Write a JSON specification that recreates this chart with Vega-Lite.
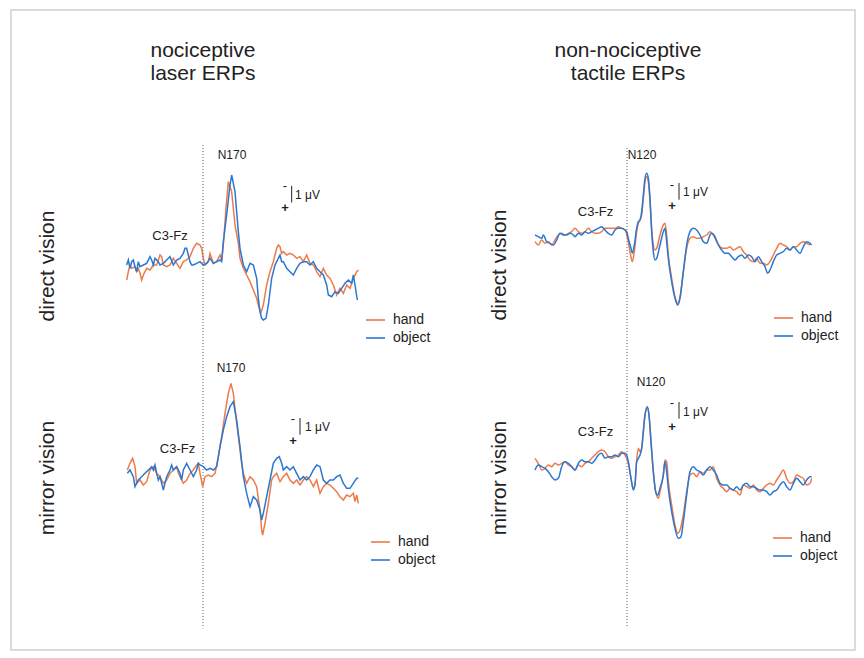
{
"$schema": "https://vega.github.io/schema/vega-lite/v6.json",
"width": 864, "height": 658,
"autosize": {"type": "fit", "contains": "padding"},
"padding": {"left": 11, "top": 10, "right": 9, "bottom": 8},
"background": "white",
"config": {
  "view": {"stroke": "#cfcfcf", "strokeWidth": 1.5},
  "axis": {"disable": true},
  "text": {"font": "Liberation Sans", "color": "#222222"},
  "legend": {"symbolType": "stroke", "symbolSize": 361, "symbolStrokeWidth": 1.6, "labelFontSize": 14, "labelFont": "Liberation Sans", "labelColor": "#222222", "rowPadding": 0, "labelOffset": 7, "padding": 0, "offset": 0, "title": null}
},
"datasets": {
"LT": [
{"s":"hand","t":-458,"v":0.9},{"s":"hand","t":-448,"v":0.4},{"s":"hand","t":-438,"v":0},{"s":"hand","t":-428,"v":0.2},{"s":"hand","t":-408,"v":0.1},{"s":"hand","t":-398,"v":0.4},{"s":"hand","t":-388,"v":0.2},{"s":"hand","t":-378,"v":0.5},{"s":"hand","t":-368,"v":0.9},{"s":"hand","t":-358,"v":0.6},{"s":"hand","t":-338,"v":0.2},{"s":"hand","t":-318,"v":0.3},{"s":"hand","t":-298,"v":0},{"s":"hand","t":-278,"v":0},{"s":"hand","t":-258,"v":-0.6},{"s":"hand","t":-248,"v":-0.5},{"s":"hand","t":-238,"v":0},{"s":"hand","t":-218,"v":0.1},{"s":"hand","t":-198,"v":0},{"s":"hand","t":-178,"v":-0.4},{"s":"hand","t":-158,"v":-0.1},{"s":"hand","t":-138,"v":0.2},{"s":"hand","t":-118,"v":-0.2},{"s":"hand","t":-98,"v":-0.3},{"s":"hand","t":-78,"v":-0.5},{"s":"hand","t":-58,"v":-1.0},{"s":"hand","t":-38,"v":-1.3},{"s":"hand","t":-18,"v":-1.2},{"s":"hand","t":-8,"v":-1.0},{"s":"hand","t":2,"v":-0.4},{"s":"hand","t":12,"v":0},{"s":"hand","t":32,"v":-0.2},{"s":"hand","t":42,"v":-0.7},{"s":"hand","t":62,"v":-0.1},{"s":"hand","t":82,"v":-0.2},{"s":"hand","t":102,"v":-0.6},{"s":"hand","t":112,"v":-0.3},{"s":"hand","t":122,"v":-1.2},{"s":"hand","t":138,"v":-3.4},{"s":"hand","t":152,"v":-5.0},{"s":"hand","t":172,"v":-4.4},{"s":"hand","t":192,"v":-2.4},{"s":"hand","t":212,"v":-1.3},{"s":"hand","t":222,"v":-0.4},{"s":"hand","t":242,"v":0.2},{"s":"hand","t":262,"v":0.6},{"s":"hand","t":282,"v":1.0},{"s":"hand","t":302,"v":1.5},{"s":"hand","t":322,"v":2.0},{"s":"hand","t":332,"v":2.4},{"s":"hand","t":346,"v":2.9},{"s":"hand","t":362,"v":2.4},{"s":"hand","t":382,"v":1.2},{"s":"hand","t":402,"v":0.4},{"s":"hand","t":422,"v":-0.2},{"s":"hand","t":442,"v":-1.0},{"s":"hand","t":452,"v":-1.2},{"s":"hand","t":462,"v":-1.1},{"s":"hand","t":472,"v":-0.7},{"s":"hand","t":482,"v":-0.8},{"s":"hand","t":502,"v":-0.6},{"s":"hand","t":522,"v":-0.7},{"s":"hand","t":542,"v":-0.6},{"s":"hand","t":562,"v":-0.4},{"s":"hand","t":582,"v":-0.5},{"s":"hand","t":602,"v":-0.2},{"s":"hand","t":622,"v":-0.6},{"s":"hand","t":642,"v":-0.1},{"s":"hand","t":662,"v":0},{"s":"hand","t":682,"v":0.4},{"s":"hand","t":702,"v":0.7},{"s":"hand","t":722,"v":0.2},{"s":"hand","t":742,"v":0.6},{"s":"hand","t":762,"v":0.8},{"s":"hand","t":782,"v":1.2},{"s":"hand","t":802,"v":1.8},{"s":"hand","t":822,"v":1.4},{"s":"hand","t":842,"v":1.7},{"s":"hand","t":862,"v":1.2},{"s":"hand","t":882,"v":1.4},{"s":"hand","t":902,"v":0.8},{"s":"hand","t":922,"v":0.4},{"s":"hand","t":932,"v":0.3},
{"s":"object","t":-458,"v":0},{"s":"object","t":-448,"v":-0.3},{"s":"object","t":-438,"v":0.2},{"s":"object","t":-428,"v":-0.2},{"s":"object","t":-418,"v":-0.3},{"s":"object","t":-408,"v":0.1},{"s":"object","t":-398,"v":0.4},{"s":"object","t":-388,"v":-0.2},{"s":"object","t":-378,"v":0.1},{"s":"object","t":-358,"v":0},{"s":"object","t":-338,"v":-0.1},{"s":"object","t":-318,"v":-0.5},{"s":"object","t":-308,"v":-0.3},{"s":"object","t":-298,"v":0},{"s":"object","t":-288,"v":-0.4},{"s":"object","t":-268,"v":-0.2},{"s":"object","t":-258,"v":0},{"s":"object","t":-238,"v":-0.1},{"s":"object","t":-218,"v":-0.3},{"s":"object","t":-198,"v":-0.5},{"s":"object","t":-178,"v":0},{"s":"object","t":-158,"v":-0.3},{"s":"object","t":-138,"v":-0.4},{"s":"object","t":-118,"v":-0.7},{"s":"object","t":-108,"v":-1.0},{"s":"object","t":-98,"v":-1.0},{"s":"object","t":-88,"v":-0.6},{"s":"object","t":-78,"v":-0.2},{"s":"object","t":-68,"v":0},{"s":"object","t":-58,"v":0},{"s":"object","t":-38,"v":-0.1},{"s":"object","t":-18,"v":-0.2},{"s":"object","t":2,"v":0},{"s":"object","t":22,"v":-0.1},{"s":"object","t":42,"v":-0.4},{"s":"object","t":62,"v":-0.1},{"s":"object","t":82,"v":-0.2},{"s":"object","t":102,"v":-0.3},{"s":"object","t":112,"v":-0.2},{"s":"object","t":122,"v":-1.4},{"s":"object","t":142,"v":-3.0},{"s":"object","t":162,"v":-4.8},{"s":"object","t":172,"v":-5.4},{"s":"object","t":192,"v":-4.4},{"s":"object","t":212,"v":-2.0},{"s":"object","t":222,"v":-1.0},{"s":"object","t":242,"v":0},{"s":"object","t":262,"v":0.4},{"s":"object","t":282,"v":-0.1},{"s":"object","t":302,"v":0},{"s":"object","t":322,"v":0.8},{"s":"object","t":332,"v":2.0},{"s":"object","t":342,"v":2.8},{"s":"object","t":352,"v":3.2},{"s":"object","t":362,"v":3.3},{"s":"object","t":378,"v":3.2},{"s":"object","t":392,"v":2.4},{"s":"object","t":412,"v":0.8},{"s":"object","t":432,"v":0},{"s":"object","t":452,"v":-0.4},{"s":"object","t":462,"v":-0.6},{"s":"object","t":472,"v":-0.2},{"s":"object","t":482,"v":-0.2},{"s":"object","t":502,"v":0.2},{"s":"object","t":522,"v":0.4},{"s":"object","t":542,"v":0.6},{"s":"object","t":562,"v":0.2},{"s":"object","t":582,"v":-0.1},{"s":"object","t":602,"v":-0.2},{"s":"object","t":622,"v":-0.2},{"s":"object","t":642,"v":0},{"s":"object","t":662,"v":-0.2},{"s":"object","t":682,"v":0.2},{"s":"object","t":702,"v":0.4},{"s":"object","t":722,"v":0.6},{"s":"object","t":742,"v":1.2},{"s":"object","t":752,"v":1.8},{"s":"object","t":772,"v":1.9},{"s":"object","t":792,"v":1.6},{"s":"object","t":812,"v":1.7},{"s":"object","t":832,"v":1.4},{"s":"object","t":852,"v":1.1},{"s":"object","t":872,"v":0.9},{"s":"object","t":892,"v":1.1},{"s":"object","t":902,"v":0.6},{"s":"object","t":912,"v":1.2},{"s":"object","t":926,"v":2.1}
],
"LB": [
{"s":"hand","t":-454,"v":0},{"s":"hand","t":-438,"v":-0.4},{"s":"hand","t":-422,"v":-0.7},{"s":"hand","t":-408,"v":-0.2},{"s":"hand","t":-398,"v":0.8},{"s":"hand","t":-378,"v":0.6},{"s":"hand","t":-358,"v":0.9},{"s":"hand","t":-338,"v":0.7},{"s":"hand","t":-318,"v":0},{"s":"hand","t":-298,"v":-0.2},{"s":"hand","t":-278,"v":0.2},{"s":"hand","t":-258,"v":0.4},{"s":"hand","t":-238,"v":0.8},{"s":"hand","t":-218,"v":0.6},{"s":"hand","t":-198,"v":0.2},{"s":"hand","t":-178,"v":0},{"s":"hand","t":-158,"v":-0.2},{"s":"hand","t":-148,"v":0.2},{"s":"hand","t":-128,"v":0.6},{"s":"hand","t":-118,"v":0.8},{"s":"hand","t":-98,"v":0.6},{"s":"hand","t":-78,"v":0.2},{"s":"hand","t":-58,"v":0},{"s":"hand","t":-38,"v":-0.3},{"s":"hand","t":-28,"v":-0.4},{"s":"hand","t":-18,"v":0.2},{"s":"hand","t":-2,"v":1.0},{"s":"hand","t":12,"v":0.4},{"s":"hand","t":32,"v":0.3},{"s":"hand","t":52,"v":0.4},{"s":"hand","t":72,"v":0.2},{"s":"hand","t":92,"v":-0.8},{"s":"hand","t":112,"v":-2.0},{"s":"hand","t":132,"v":-3.4},{"s":"hand","t":152,"v":-4.6},{"s":"hand","t":168,"v":-5.2},{"s":"hand","t":182,"v":-4.6},{"s":"hand","t":202,"v":-2.8},{"s":"hand","t":222,"v":-1.2},{"s":"hand","t":232,"v":-0.4},{"s":"hand","t":242,"v":0.2},{"s":"hand","t":262,"v":0.8},{"s":"hand","t":282,"v":0.4},{"s":"hand","t":302,"v":0.6},{"s":"hand","t":322,"v":1.0},{"s":"hand","t":342,"v":2.4},{"s":"hand","t":352,"v":3.6},{"s":"hand","t":358,"v":3.9},{"s":"hand","t":372,"v":3.2},{"s":"hand","t":392,"v":2.0},{"s":"hand","t":412,"v":0.6},{"s":"hand","t":422,"v":0.4},{"s":"hand","t":442,"v":0.2},{"s":"hand","t":462,"v":0.7},{"s":"hand","t":482,"v":0.4},{"s":"hand","t":502,"v":0.2},{"s":"hand","t":522,"v":0.6},{"s":"hand","t":542,"v":0.8},{"s":"hand","t":562,"v":0.6},{"s":"hand","t":582,"v":0.9},{"s":"hand","t":602,"v":0.6},{"s":"hand","t":622,"v":0.4},{"s":"hand","t":642,"v":0.6},{"s":"hand","t":662,"v":1.0},{"s":"hand","t":682,"v":0.6},{"s":"hand","t":702,"v":1.4},{"s":"hand","t":722,"v":1.0},{"s":"hand","t":742,"v":0.8},{"s":"hand","t":762,"v":0.9},{"s":"hand","t":782,"v":1.1},{"s":"hand","t":802,"v":1.3},{"s":"hand","t":822,"v":1.6},{"s":"hand","t":842,"v":1.8},{"s":"hand","t":862,"v":1.5},{"s":"hand","t":882,"v":1.6},{"s":"hand","t":902,"v":1.4},{"s":"hand","t":912,"v":1.9},{"s":"hand","t":922,"v":1.5},{"s":"hand","t":932,"v":2.0},
{"s":"object","t":-454,"v":0.2},{"s":"object","t":-438,"v":0},{"s":"object","t":-418,"v":0.4},{"s":"object","t":-408,"v":1.0},{"s":"object","t":-388,"v":0.6},{"s":"object","t":-368,"v":0.4},{"s":"object","t":-348,"v":0.2},{"s":"object","t":-328,"v":0},{"s":"object","t":-308,"v":-0.2},{"s":"object","t":-298,"v":0},{"s":"object","t":-288,"v":-0.3},{"s":"object","t":-278,"v":0.2},{"s":"object","t":-268,"v":0.6},{"s":"object","t":-258,"v":0.4},{"s":"object","t":-248,"v":0.8},{"s":"object","t":-238,"v":1.2},{"s":"object","t":-218,"v":0.4},{"s":"object","t":-198,"v":0},{"s":"object","t":-188,"v":-0.3},{"s":"object","t":-178,"v":0},{"s":"object","t":-158,"v":-0.2},{"s":"object","t":-138,"v":0.2},{"s":"object","t":-128,"v":0.6},{"s":"object","t":-118,"v":0},{"s":"object","t":-98,"v":-0.4},{"s":"object","t":-78,"v":0},{"s":"object","t":-58,"v":0.4},{"s":"object","t":-38,"v":0},{"s":"object","t":-28,"v":-0.4},{"s":"object","t":-18,"v":-0.3},{"s":"object","t":2,"v":-0.2},{"s":"object","t":22,"v":0},{"s":"object","t":42,"v":-0.1},{"s":"object","t":62,"v":0},{"s":"object","t":82,"v":-0.2},{"s":"object","t":102,"v":-1.4},{"s":"object","t":122,"v":-2.4},{"s":"object","t":142,"v":-3.2},{"s":"object","t":162,"v":-3.8},{"s":"object","t":182,"v":-4.1},{"s":"object","t":202,"v":-3.0},{"s":"object","t":222,"v":-1.4},{"s":"object","t":242,"v":0.4},{"s":"object","t":262,"v":1.4},{"s":"object","t":282,"v":2.2},{"s":"object","t":302,"v":1.6},{"s":"object","t":322,"v":1.8},{"s":"object","t":342,"v":2.4},{"s":"object","t":352,"v":3.0},{"s":"object","t":362,"v":2.6},{"s":"object","t":382,"v":1.6},{"s":"object","t":402,"v":0.6},{"s":"object","t":422,"v":-0.4},{"s":"object","t":442,"v":-0.7},{"s":"object","t":458,"v":-0.8},{"s":"object","t":472,"v":-0.4},{"s":"object","t":482,"v":0},{"s":"object","t":502,"v":-0.2},{"s":"object","t":522,"v":0},{"s":"object","t":542,"v":-0.2},{"s":"object","t":562,"v":0.2},{"s":"object","t":582,"v":0.6},{"s":"object","t":602,"v":0.4},{"s":"object","t":622,"v":0.6},{"s":"object","t":642,"v":0.4},{"s":"object","t":662,"v":0},{"s":"object","t":682,"v":-0.3},{"s":"object","t":702,"v":-0.2},{"s":"object","t":722,"v":0.6},{"s":"object","t":742,"v":0.8},{"s":"object","t":762,"v":0.6},{"s":"object","t":782,"v":0.6},{"s":"object","t":802,"v":0.4},{"s":"object","t":822,"v":0.3},{"s":"object","t":842,"v":0.8},{"s":"object","t":862,"v":1.1},{"s":"object","t":882,"v":1.1},{"s":"object","t":902,"v":0.8},{"s":"object","t":922,"v":0.5},{"s":"object","t":932,"v":0.5}
],
"RT": [
{"s":"hand","t":-552,"v":0.4},{"s":"hand","t":-532,"v":0.6},{"s":"hand","t":-512,"v":0.3},{"s":"hand","t":-492,"v":0.5},{"s":"hand","t":-472,"v":0.4},{"s":"hand","t":-452,"v":0.6},{"s":"hand","t":-432,"v":0.3},{"s":"hand","t":-412,"v":0},{"s":"hand","t":-392,"v":-0.1},{"s":"hand","t":-372,"v":0},{"s":"hand","t":-352,"v":-0.1},{"s":"hand","t":-332,"v":-0.2},{"s":"hand","t":-312,"v":-0.4},{"s":"hand","t":-292,"v":-0.2},{"s":"hand","t":-272,"v":-0.1},{"s":"hand","t":-252,"v":-0.2},{"s":"hand","t":-232,"v":-0.4},{"s":"hand","t":-212,"v":-0.2},{"s":"hand","t":-192,"v":-0.1},{"s":"hand","t":-172,"v":-0.1},{"s":"hand","t":-152,"v":-0.2},{"s":"hand","t":-132,"v":-0.4},{"s":"hand","t":-112,"v":-0.4},{"s":"hand","t":-92,"v":-0.4},{"s":"hand","t":-72,"v":-0.4},{"s":"hand","t":-52,"v":-0.5},{"s":"hand","t":-32,"v":-0.4},{"s":"hand","t":-12,"v":-0.3},{"s":"hand","t":4,"v":0.2},{"s":"hand","t":18,"v":1.0},{"s":"hand","t":32,"v":1.6},{"s":"hand","t":44,"v":1.0},{"s":"hand","t":58,"v":-0.2},{"s":"hand","t":68,"v":-0.7},{"s":"hand","t":78,"v":-0.9},{"s":"hand","t":88,"v":-1.2},{"s":"hand","t":98,"v":-2.2},{"s":"hand","t":108,"v":-3.2},{"s":"hand","t":118,"v":-3.5},{"s":"hand","t":128,"v":-3.2},{"s":"hand","t":138,"v":-2.0},{"s":"hand","t":148,"v":-0.4},{"s":"hand","t":158,"v":0.6},{"s":"hand","t":168,"v":0.9},{"s":"hand","t":178,"v":0.8},{"s":"hand","t":198,"v":0},{"s":"hand","t":218,"v":-0.6},{"s":"hand","t":228,"v":-0.7},{"s":"hand","t":238,"v":0},{"s":"hand","t":248,"v":1.2},{"s":"hand","t":268,"v":2.6},{"s":"hand","t":288,"v":3.7},{"s":"hand","t":304,"v":4.1},{"s":"hand","t":318,"v":3.7},{"s":"hand","t":338,"v":2.2},{"s":"hand","t":358,"v":0.8},{"s":"hand","t":378,"v":0.2},{"s":"hand","t":398,"v":0.1},{"s":"hand","t":418,"v":0.2},{"s":"hand","t":438,"v":0.2},{"s":"hand","t":458,"v":0.1},{"s":"hand","t":478,"v":0},{"s":"hand","t":498,"v":-0.2},{"s":"hand","t":518,"v":0},{"s":"hand","t":538,"v":0.4},{"s":"hand","t":558,"v":0.7},{"s":"hand","t":578,"v":0.8},{"s":"hand","t":598,"v":0.8},{"s":"hand","t":618,"v":0.7},{"s":"hand","t":638,"v":0.9},{"s":"hand","t":658,"v":0.8},{"s":"hand","t":678,"v":0.7},{"s":"hand","t":698,"v":1.0},{"s":"hand","t":718,"v":1.2},{"s":"hand","t":738,"v":1.5},{"s":"hand","t":758,"v":1.6},{"s":"hand","t":778,"v":1.4},{"s":"hand","t":798,"v":1.7},{"s":"hand","t":818,"v":1.7},{"s":"hand","t":838,"v":1.8},{"s":"hand","t":858,"v":1.6},{"s":"hand","t":878,"v":1.2},{"s":"hand","t":898,"v":0.8},{"s":"hand","t":918,"v":0.5},{"s":"hand","t":938,"v":0.6},{"s":"hand","t":958,"v":0.7},{"s":"hand","t":978,"v":0.9},{"s":"hand","t":998,"v":0.7},{"s":"hand","t":1018,"v":0.7},{"s":"hand","t":1038,"v":0.5},{"s":"hand","t":1058,"v":0.4},{"s":"hand","t":1078,"v":0.5},{"s":"hand","t":1098,"v":0.6},
{"s":"object","t":-552,"v":0},{"s":"object","t":-532,"v":0.1},{"s":"object","t":-512,"v":0.2},{"s":"object","t":-502,"v":0},{"s":"object","t":-482,"v":0.4},{"s":"object","t":-462,"v":0.5},{"s":"object","t":-442,"v":0.6},{"s":"object","t":-422,"v":0.3},{"s":"object","t":-402,"v":-0.1},{"s":"object","t":-382,"v":0},{"s":"object","t":-362,"v":0},{"s":"object","t":-342,"v":-0.1},{"s":"object","t":-322,"v":0},{"s":"object","t":-312,"v":0.1},{"s":"object","t":-292,"v":-0.1},{"s":"object","t":-272,"v":0},{"s":"object","t":-252,"v":-0.2},{"s":"object","t":-232,"v":-0.1},{"s":"object","t":-212,"v":-0.2},{"s":"object","t":-192,"v":-0.3},{"s":"object","t":-172,"v":-0.4},{"s":"object","t":-152,"v":-0.5},{"s":"object","t":-132,"v":-0.3},{"s":"object","t":-112,"v":-0.1},{"s":"object","t":-92,"v":0},{"s":"object","t":-72,"v":-0.3},{"s":"object","t":-52,"v":-0.4},{"s":"object","t":-32,"v":-0.4},{"s":"object","t":-12,"v":-0.3},{"s":"object","t":-2,"v":-0.2},{"s":"object","t":8,"v":0.2},{"s":"object","t":24,"v":0.8},{"s":"object","t":32,"v":1.1},{"s":"object","t":44,"v":0.6},{"s":"object","t":58,"v":-0.4},{"s":"object","t":68,"v":-0.8},{"s":"object","t":78,"v":-0.9},{"s":"object","t":88,"v":-1.4},{"s":"object","t":98,"v":-2.4},{"s":"object","t":108,"v":-3.4},{"s":"object","t":118,"v":-3.7},{"s":"object","t":128,"v":-3.4},{"s":"object","t":138,"v":-2.2},{"s":"object","t":148,"v":-0.2},{"s":"object","t":158,"v":1.0},{"s":"object","t":168,"v":1.5},{"s":"object","t":178,"v":1.4},{"s":"object","t":198,"v":0.6},{"s":"object","t":218,"v":-0.2},{"s":"object","t":228,"v":-0.4},{"s":"object","t":238,"v":0.4},{"s":"object","t":248,"v":1.4},{"s":"object","t":268,"v":2.8},{"s":"object","t":288,"v":3.8},{"s":"object","t":304,"v":4.2},{"s":"object","t":318,"v":3.8},{"s":"object","t":338,"v":2.2},{"s":"object","t":358,"v":0.6},{"s":"object","t":378,"v":-0.2},{"s":"object","t":398,"v":-0.4},{"s":"object","t":418,"v":-0.3},{"s":"object","t":438,"v":0},{"s":"object","t":458,"v":0.4},{"s":"object","t":478,"v":0.5},{"s":"object","t":498,"v":0},{"s":"object","t":508,"v":-0.1},{"s":"object","t":528,"v":0.1},{"s":"object","t":548,"v":0.6},{"s":"object","t":568,"v":0.9},{"s":"object","t":588,"v":1.1},{"s":"object","t":608,"v":1.1},{"s":"object","t":628,"v":1.3},{"s":"object","t":648,"v":1.5},{"s":"object","t":668,"v":1.3},{"s":"object","t":688,"v":1.2},{"s":"object","t":708,"v":1.4},{"s":"object","t":728,"v":1.2},{"s":"object","t":748,"v":1.3},{"s":"object","t":768,"v":1.6},{"s":"object","t":788,"v":1.3},{"s":"object","t":808,"v":1.6},{"s":"object","t":828,"v":1.9},{"s":"object","t":844,"v":2.3},{"s":"object","t":858,"v":2.1},{"s":"object","t":878,"v":1.6},{"s":"object","t":898,"v":1.2},{"s":"object","t":918,"v":1.1},{"s":"object","t":938,"v":1.0},{"s":"object","t":958,"v":0.8},{"s":"object","t":978,"v":0.9},{"s":"object","t":998,"v":0.7},{"s":"object","t":1018,"v":0.9},{"s":"object","t":1038,"v":1.1},{"s":"object","t":1058,"v":0.7},{"s":"object","t":1078,"v":0.4},{"s":"object","t":1098,"v":0.5},{"s":"object","t":1108,"v":0.6}
],
"RB": [
{"s":"hand","t":-552,"v":-0.4},{"s":"hand","t":-532,"v":-0.1},{"s":"hand","t":-512,"v":0.3},{"s":"hand","t":-492,"v":0.2},{"s":"hand","t":-472,"v":0},{"s":"hand","t":-452,"v":0.1},{"s":"hand","t":-432,"v":-0.1},{"s":"hand","t":-412,"v":0},{"s":"hand","t":-392,"v":-0.1},{"s":"hand","t":-372,"v":-0.2},{"s":"hand","t":-352,"v":0},{"s":"hand","t":-332,"v":0.1},{"s":"hand","t":-312,"v":0.3},{"s":"hand","t":-292,"v":0},{"s":"hand","t":-272,"v":0.1},{"s":"hand","t":-252,"v":-0.1},{"s":"hand","t":-232,"v":-0.2},{"s":"hand","t":-212,"v":-0.4},{"s":"hand","t":-192,"v":-0.6},{"s":"hand","t":-172,"v":-0.8},{"s":"hand","t":-152,"v":-0.9},{"s":"hand","t":-132,"v":-0.8},{"s":"hand","t":-112,"v":-0.5},{"s":"hand","t":-92,"v":-0.4},{"s":"hand","t":-72,"v":-0.5},{"s":"hand","t":-52,"v":-0.6},{"s":"hand","t":-32,"v":-0.8},{"s":"hand","t":-12,"v":-0.6},{"s":"hand","t":-2,"v":-0.4},{"s":"hand","t":8,"v":-0.1},{"s":"hand","t":24,"v":0.8},{"s":"hand","t":38,"v":1.4},{"s":"hand","t":48,"v":1.1},{"s":"hand","t":58,"v":-0.3},{"s":"hand","t":68,"v":-1.0},{"s":"hand","t":78,"v":-0.8},{"s":"hand","t":88,"v":-1.0},{"s":"hand","t":98,"v":-2.0},{"s":"hand","t":108,"v":-3.0},{"s":"hand","t":122,"v":-3.4},{"s":"hand","t":132,"v":-3.0},{"s":"hand","t":144,"v":-1.4},{"s":"hand","t":158,"v":0.4},{"s":"hand","t":172,"v":1.6},{"s":"hand","t":188,"v":2.0},{"s":"hand","t":198,"v":1.6},{"s":"hand","t":218,"v":0.6},{"s":"hand","t":228,"v":-0.3},{"s":"hand","t":238,"v":-0.2},{"s":"hand","t":248,"v":1.0},{"s":"hand","t":268,"v":2.4},{"s":"hand","t":288,"v":3.6},{"s":"hand","t":304,"v":4.1},{"s":"hand","t":318,"v":3.9},{"s":"hand","t":338,"v":3.0},{"s":"hand","t":358,"v":1.6},{"s":"hand","t":378,"v":0.6},{"s":"hand","t":398,"v":0.5},{"s":"hand","t":418,"v":0.7},{"s":"hand","t":438,"v":0.4},{"s":"hand","t":458,"v":0.5},{"s":"hand","t":478,"v":0.3},{"s":"hand","t":498,"v":0.3},{"s":"hand","t":518,"v":0.1},{"s":"hand","t":538,"v":0.8},{"s":"hand","t":558,"v":1.2},{"s":"hand","t":578,"v":1.4},{"s":"hand","t":598,"v":1.6},{"s":"hand","t":618,"v":1.4},{"s":"hand","t":638,"v":1.5},{"s":"hand","t":658,"v":1.6},{"s":"hand","t":678,"v":1.8},{"s":"hand","t":698,"v":1.2},{"s":"hand","t":718,"v":1.3},{"s":"hand","t":738,"v":1.4},{"s":"hand","t":758,"v":1.2},{"s":"hand","t":778,"v":1.5},{"s":"hand","t":798,"v":1.6},{"s":"hand","t":818,"v":1.4},{"s":"hand","t":838,"v":1.2},{"s":"hand","t":858,"v":1.1},{"s":"hand","t":878,"v":1.2},{"s":"hand","t":898,"v":0.9},{"s":"hand","t":918,"v":0.6},{"s":"hand","t":938,"v":0.3},{"s":"hand","t":958,"v":0.8},{"s":"hand","t":978,"v":1.1},{"s":"hand","t":998,"v":1.0},{"s":"hand","t":1018,"v":0.6},{"s":"hand","t":1038,"v":0.7},{"s":"hand","t":1058,"v":0.8},{"s":"hand","t":1078,"v":1.2},{"s":"hand","t":1098,"v":1.1},{"s":"hand","t":1108,"v":0.8},
{"s":"object","t":-552,"v":0.3},{"s":"object","t":-532,"v":0},{"s":"object","t":-512,"v":0.1},{"s":"object","t":-492,"v":0.2},{"s":"object","t":-472,"v":0.4},{"s":"object","t":-452,"v":0.7},{"s":"object","t":-432,"v":0.9},{"s":"object","t":-412,"v":0.8},{"s":"object","t":-392,"v":0.1},{"s":"object","t":-372,"v":-0.2},{"s":"object","t":-352,"v":-0.1},{"s":"object","t":-332,"v":0.1},{"s":"object","t":-312,"v":0.3},{"s":"object","t":-292,"v":-0.1},{"s":"object","t":-272,"v":-0.3},{"s":"object","t":-252,"v":-0.2},{"s":"object","t":-232,"v":-0.2},{"s":"object","t":-212,"v":-0.1},{"s":"object","t":-192,"v":-0.3},{"s":"object","t":-172,"v":-0.6},{"s":"object","t":-152,"v":-0.7},{"s":"object","t":-132,"v":-0.4},{"s":"object","t":-112,"v":-0.5},{"s":"object","t":-92,"v":-0.5},{"s":"object","t":-72,"v":-0.6},{"s":"object","t":-52,"v":-0.5},{"s":"object","t":-32,"v":-0.7},{"s":"object","t":-12,"v":-0.7},{"s":"object","t":-2,"v":-0.6},{"s":"object","t":8,"v":-0.2},{"s":"object","t":24,"v":0.8},{"s":"object","t":38,"v":1.5},{"s":"object","t":48,"v":1.2},{"s":"object","t":58,"v":-0.2},{"s":"object","t":68,"v":-0.4},{"s":"object","t":78,"v":-0.6},{"s":"object","t":88,"v":-1.0},{"s":"object","t":98,"v":-2.0},{"s":"object","t":108,"v":-3.0},{"s":"object","t":122,"v":-3.5},{"s":"object","t":132,"v":-3.0},{"s":"object","t":144,"v":-1.4},{"s":"object","t":158,"v":0.4},{"s":"object","t":172,"v":1.6},{"s":"object","t":184,"v":1.8},{"s":"object","t":198,"v":1.4},{"s":"object","t":218,"v":0.6},{"s":"object","t":228,"v":-0.2},{"s":"object","t":238,"v":0.4},{"s":"object","t":248,"v":1.4},{"s":"object","t":268,"v":2.8},{"s":"object","t":288,"v":3.8},{"s":"object","t":308,"v":4.4},{"s":"object","t":324,"v":4.3},{"s":"object","t":338,"v":3.4},{"s":"object","t":358,"v":1.8},{"s":"object","t":378,"v":0.4},{"s":"object","t":398,"v":0.1},{"s":"object","t":418,"v":0.3},{"s":"object","t":438,"v":0.4},{"s":"object","t":458,"v":0.6},{"s":"object","t":478,"v":0.3},{"s":"object","t":498,"v":0.1},{"s":"object","t":518,"v":0.3},{"s":"object","t":538,"v":0.6},{"s":"object","t":558,"v":1.1},{"s":"object","t":578,"v":1.2},{"s":"object","t":598,"v":1.2},{"s":"object","t":618,"v":1.4},{"s":"object","t":638,"v":1.5},{"s":"object","t":658,"v":1.3},{"s":"object","t":678,"v":1.5},{"s":"object","t":698,"v":1.2},{"s":"object","t":718,"v":1.1},{"s":"object","t":738,"v":1.3},{"s":"object","t":758,"v":1.3},{"s":"object","t":778,"v":1.4},{"s":"object","t":798,"v":1.5},{"s":"object","t":818,"v":1.5},{"s":"object","t":838,"v":1.6},{"s":"object","t":858,"v":1.8},{"s":"object","t":878,"v":1.6},{"s":"object","t":898,"v":1.5},{"s":"object","t":918,"v":1.2},{"s":"object","t":938,"v":1.0},{"s":"object","t":958,"v":1.3},{"s":"object","t":978,"v":1.5},{"s":"object","t":998,"v":1.1},{"s":"object","t":1018,"v":0.8},{"s":"object","t":1038,"v":1.0},{"s":"object","t":1058,"v":1.2},{"s":"object","t":1078,"v":0.9},{"s":"object","t":1098,"v":0.7},{"s":"object","t":1108,"v":0.7}
]
},
"layer": [
{
 "layer": [
  {"data": {"name": "LT"}, "mark": {"type": "line", "strokeWidth": 1.5},
   "encoding": {
    "x": {"field": "t", "type": "quantitative", "scale": {"domain": [-1152, 3912], "nice": false, "zero": false}},
    "y": {"field": "v", "type": "quantitative", "scale": {"domain": [-15.3, 23.1], "nice": false, "zero": false, "reverse": true}},
    "color": {"field": "s", "type": "nominal", "scale": {"domain": ["hand", "object"], "range": ["#EE7A4A", "#2A78D2"]}, "legend": {"orient": "none", "legendX": 354, "legendY": 299.5}}
   }},
  {"data": {"values": [{}]}, "mark": {"type": "rule", "strokeDash": [1, 2], "color": "#666666", "strokeWidth": 1}, "encoding": {"x": {"datum": 0}, "y": {"datum": -7.2}, "y2": {"datum": 21.8}}},
  {"data": {"values": [{}]}, "mark": {"type": "rule", "color": "#222222", "strokeWidth": 1}, "encoding": {"x": {"datum": 532}, "y": {"datum": -4.75}, "y2": {"datum": -3.75}}},
  {"data": {"values": [{}]}, "mark": {"type": "text", "text": ["nociceptive", "laser ERPs"], "fontSize": 21, "lineHeight": 23, "align": "center", "baseline": "alphabetic"}, "encoding": {"x": {"datum": 0}, "y": {"datum": -12.5}}},
  {"data": {"values": [{}]}, "mark": {"type": "text", "text": "direct vision", "fontSize": 21, "angle": 270, "align": "center", "baseline": "middle"}, "encoding": {"x": {"datum": -930}, "y": {"datum": 0.06}}},
  {"data": {"values": [{}]}, "mark": {"type": "text", "text": "N170", "fontSize": 12, "align": "center", "baseline": "middle"}, "encoding": {"x": {"datum": 174}, "y": {"datum": -6.6}}},
  {"data": {"values": [{}]}, "mark": {"type": "text", "text": "C3-Fz", "fontSize": 13, "align": "center", "baseline": "middle"}, "encoding": {"x": {"datum": -198}, "y": {"datum": -1.74}}},
  {"data": {"values": [{}]}, "mark": {"type": "text", "text": "-", "fontSize": 13, "align": "center", "baseline": "middle"}, "encoding": {"x": {"datum": 492}, "y": {"datum": -4.75}}},
  {"data": {"values": [{}]}, "mark": {"type": "text", "text": "+", "fontSize": 13, "fontWeight": "bold", "align": "center", "baseline": "middle"}, "encoding": {"x": {"datum": 492}, "y": {"datum": -3.42}}},
  {"data": {"values": [{}]}, "mark": {"type": "text", "text": "1 μV", "fontSize": 12, "align": "left", "baseline": "middle"}, "encoding": {"x": {"datum": 552}, "y": {"datum": -4.2}}}
 ]
},
{
 "layer": [
  {"data": {"name": "LB"}, "mark": {"type": "line", "strokeWidth": 1.5},
   "encoding": {
    "x": {"field": "t", "type": "quantitative", "scale": {"domain": [-1152, 3912], "nice": false, "zero": false}},
    "y": {"field": "v", "type": "quantitative", "scale": {"domain": [-27.6, 10.8], "nice": false, "zero": false, "reverse": true}},
    "color": {"field": "s", "type": "nominal", "scale": {"domain": ["hand", "object"], "range": ["#EE7A4A", "#2A78D2"]}, "legend": {"orient": "none", "legendX": 359, "legendY": 521.5}}
   }},
  {"data": {"values": [{}]}, "mark": {"type": "rule", "color": "#222222", "strokeWidth": 1}, "encoding": {"x": {"datum": 582}, "y": {"datum": -3.12}, "y2": {"datum": -2.12}}},
  {"data": {"values": [{}]}, "mark": {"type": "text", "text": "mirror vision", "fontSize": 21, "angle": 270, "align": "center", "baseline": "middle"}, "encoding": {"x": {"datum": -930}, "y": {"datum": 0.48}}},
  {"data": {"values": [{}]}, "mark": {"type": "text", "text": "N170", "fontSize": 12, "align": "center", "baseline": "middle"}, "encoding": {"x": {"datum": 168}, "y": {"datum": -6.1}}},
  {"data": {"values": [{}]}, "mark": {"type": "text", "text": "C3-Fz", "fontSize": 13, "align": "center", "baseline": "middle"}, "encoding": {"x": {"datum": -153}, "y": {"datum": -1.26}}},
  {"data": {"values": [{}]}, "mark": {"type": "text", "text": "-", "fontSize": 13, "align": "center", "baseline": "middle"}, "encoding": {"x": {"datum": 540}, "y": {"datum": -3.05}}},
  {"data": {"values": [{}]}, "mark": {"type": "text", "text": "+", "fontSize": 13, "fontWeight": "bold", "align": "center", "baseline": "middle"}, "encoding": {"x": {"datum": 540}, "y": {"datum": -1.74}}},
  {"data": {"values": [{}]}, "mark": {"type": "text", "text": "1 μV", "fontSize": 12, "align": "left", "baseline": "middle"}, "encoding": {"x": {"datum": 612}, "y": {"datum": -2.58}}}
 ]
},
{
 "layer": [
  {"data": {"name": "RT"}, "mark": {"type": "line", "strokeWidth": 1.5, "interpolate": "monotone"},
   "encoding": {
    "x": {"field": "t", "type": "quantitative", "scale": {"domain": [-3696, 1368], "nice": false, "zero": false}},
    "y": {"field": "v", "type": "quantitative", "scale": {"domain": [-13.5, 24.9], "nice": false, "zero": false, "reverse": true}},
    "color": {"field": "s", "type": "nominal", "scale": {"domain": ["hand", "object"], "range": ["#EE7A4A", "#2A78D2"]}, "legend": {"orient": "none", "legendX": 762, "legendY": 297.5}}
   }},
  {"data": {"values": [{}]}, "mark": {"type": "rule", "strokeDash": [1, 2], "color": "#666666", "strokeWidth": 1}, "encoding": {"x": {"datum": 0}, "y": {"datum": -5.22}, "y2": {"datum": 23.58}}},
  {"data": {"values": [{}]}, "mark": {"type": "rule", "color": "#222222", "strokeWidth": 1}, "encoding": {"x": {"datum": 312}, "y": {"datum": -3.12}, "y2": {"datum": -2.12}}},
  {"data": {"values": [{}]}, "mark": {"type": "text", "text": ["non-nociceptive", "tactile ERPs"], "fontSize": 21, "lineHeight": 23, "align": "center", "baseline": "alphabetic"}, "encoding": {"x": {"datum": 6}, "y": {"datum": -10.68}}},
  {"data": {"values": [{}]}, "mark": {"type": "text", "text": "direct vision", "fontSize": 21, "angle": 270, "align": "center", "baseline": "middle"}, "encoding": {"x": {"datum": -762}, "y": {"datum": 1.8}}},
  {"data": {"values": [{}]}, "mark": {"type": "text", "text": "N120", "fontSize": 12, "align": "center", "baseline": "middle"}, "encoding": {"x": {"datum": 90}, "y": {"datum": -4.8}}},
  {"data": {"values": [{}]}, "mark": {"type": "text", "text": "C3-Fz", "fontSize": 13, "align": "center", "baseline": "middle"}, "encoding": {"x": {"datum": -189}, "y": {"datum": -1.38}}},
  {"data": {"values": [{}]}, "mark": {"type": "text", "text": "-", "fontSize": 13, "align": "center", "baseline": "middle"}, "encoding": {"x": {"datum": 270}, "y": {"datum": -3.0}}},
  {"data": {"values": [{}]}, "mark": {"type": "text", "text": "+", "fontSize": 13, "fontWeight": "bold", "align": "center", "baseline": "middle"}, "encoding": {"x": {"datum": 270}, "y": {"datum": -1.74}}},
  {"data": {"values": [{}]}, "mark": {"type": "text", "text": "1 μV", "fontSize": 12, "align": "left", "baseline": "middle"}, "encoding": {"x": {"datum": 336}, "y": {"datum": -2.58}}}
 ]
},
{
 "layer": [
  {"data": {"name": "RB"}, "mark": {"type": "line", "strokeWidth": 1.5, "interpolate": "monotone"},
   "encoding": {
    "x": {"field": "t", "type": "quantitative", "scale": {"domain": [-3696, 1368], "nice": false, "zero": false}},
    "y": {"field": "v", "type": "quantitative", "scale": {"domain": [-27.3, 11.1], "nice": false, "zero": false, "reverse": true}},
    "color": {"field": "s", "type": "nominal", "scale": {"domain": ["hand", "object"], "range": ["#EE7A4A", "#2A78D2"]}, "legend": {"orient": "none", "legendX": 761, "legendY": 517.5}}
   }},
  {"data": {"values": [{}]}, "mark": {"type": "rule", "color": "#222222", "strokeWidth": 1}, "encoding": {"x": {"datum": 312}, "y": {"datum": -3.78}, "y2": {"datum": -2.78}}},
  {"data": {"values": [{}]}, "mark": {"type": "text", "text": "mirror vision", "fontSize": 21, "angle": 270, "align": "center", "baseline": "middle"}, "encoding": {"x": {"datum": -762}, "y": {"datum": 0.78}}},
  {"data": {"values": [{}]}, "mark": {"type": "text", "text": "N120", "fontSize": 12, "align": "center", "baseline": "middle"}, "encoding": {"x": {"datum": 144}, "y": {"datum": -4.98}}},
  {"data": {"values": [{}]}, "mark": {"type": "text", "text": "C3-Fz", "fontSize": 13, "align": "center", "baseline": "middle"}, "encoding": {"x": {"datum": -189}, "y": {"datum": -1.98}}},
  {"data": {"values": [{}]}, "mark": {"type": "text", "text": "-", "fontSize": 13, "align": "center", "baseline": "middle"}, "encoding": {"x": {"datum": 270}, "y": {"datum": -3.7}}},
  {"data": {"values": [{}]}, "mark": {"type": "text", "text": "+", "fontSize": 13, "fontWeight": "bold", "align": "center", "baseline": "middle"}, "encoding": {"x": {"datum": 270}, "y": {"datum": -2.28}}},
  {"data": {"values": [{}]}, "mark": {"type": "text", "text": "1 μV", "fontSize": 12, "align": "left", "baseline": "middle"}, "encoding": {"x": {"datum": 336}, "y": {"datum": -3.18}}}
 ]
}
],
"resolve": {"scale": {"x": "independent", "y": "independent", "color": "independent"}, "legend": {"color": "independent"}}
}
